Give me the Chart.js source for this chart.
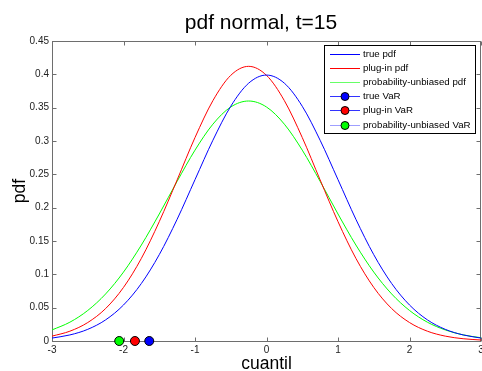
<!DOCTYPE html>
<html>
<head>
<meta charset="utf-8">
<title>pdf normal, t=15</title>
<script src="https://cdn.jsdelivr.net/npm/chart.js@4.4.1/dist/chart.umd.min.js"></script>
<style>
  html, body { margin: 0; padding: 0; background: #fff; }
  #wrap { width: 482px; height: 371px; }
</style>
</head>
<body>
<div id="wrap"><canvas id="pdfChart" width="482" height="371"></canvas></div>
<script>
const chartTitle = "pdf normal, t=15";

// x positions (cuantil) the curves were read at
const quantiles = [-3, -2.75, -2.5, -2.25, -2, -1.75, -1.5, -1.25, -1, -0.75, -0.5, -0.25,
  0, 0.25, 0.5, 0.75, 1, 1.25, 1.5, 1.75, 2, 2.25, 2.5, 2.75, 3];

const truePdf = [0.0044, 0.0091, 0.0175, 0.0317, 0.0540, 0.0863, 0.1295, 0.1826, 0.2420, 0.3011, 0.3521, 0.3867,
  0.3989, 0.3867, 0.3521, 0.3011, 0.2420, 0.1826, 0.1295, 0.0863, 0.0540, 0.0317, 0.0175, 0.0091, 0.0044];

const plugInPdf = [0.0073, 0.0147, 0.0277, 0.0487, 0.0804, 0.1240, 0.1790, 0.2416, 0.3052, 0.3605, 0.3985, 0.4120,
  0.3985, 0.3605, 0.3052, 0.2416, 0.1790, 0.1240, 0.0804, 0.0487, 0.0277, 0.0147, 0.0073, 0.0034, 0.0015];

const unbiasedPdf = [0.0166, 0.0282, 0.0458, 0.0706, 0.1034, 0.1440, 0.1905, 0.2395, 0.2863, 0.3252, 0.3510, 0.3600,
  0.3510, 0.3252, 0.2863, 0.2395, 0.1905, 0.1440, 0.1034, 0.0706, 0.0458, 0.0282, 0.0166, 0.0092, 0.0049];

// VaR markers, all sitting on pdf = 0
const trueVaR = [-1.64];
const plugInVaR = [-1.84];
const unbiasedVaR = [-2.06];

const xTicks = [-3, -2, -1, 0, 1, 2, 3];
const yTicks = [0, 0.05, 0.1, 0.15, 0.2, 0.25, 0.3, 0.35, 0.4, 0.45];

const toPoints = ys => quantiles.map((q, i) => ({ x: q, y: ys[i] }));
const varPoints = xs => xs.map(v => ({ x: v, y: 0 }));

const axisColor = "#6e6e6e";

// box round the axes + matlab style inward ticks
const framePlugin = {
  id: "frame",
  beforeDatasetsDraw(chart) {
    const { ctx, chartArea: a, scales } = chart;
    const l = Math.round(a.left) + 0.5, r = Math.round(a.right) - 0.5;
    const t = Math.round(a.top) + 0.5, b = Math.round(a.bottom) + 0.5;
    ctx.save();
    ctx.strokeStyle = axisColor;
    ctx.lineWidth = 1;
    ctx.strokeRect(l, t, r - l, b - t);
    ctx.beginPath();
    scales.x.ticks.forEach(tk => {
      const px = Math.round(scales.x.getPixelForValue(tk.value)) + 0.5;
      ctx.moveTo(px, b); ctx.lineTo(px, b - 4);
      ctx.moveTo(px, t); ctx.lineTo(px, t + 4);
    });
    scales.y.ticks.forEach(tk => {
      const py = Math.round(scales.y.getPixelForValue(tk.value)) + 0.5;
      ctx.moveTo(l, py); ctx.lineTo(l + 4, py);
      ctx.moveTo(r, py); ctx.lineTo(r - 4, py);
    });
    ctx.stroke();
    ctx.restore();
  },
  afterDraw(chart) {
    const { ctx } = chart;
    ctx.save();
    ctx.fillStyle = "#000";
    ctx.font = "21px 'Liberation Sans', Arial, sans-serif";
    ctx.textAlign = "center";
    ctx.textBaseline = "alphabetic";
    ctx.fillText(chartTitle, 261, 28.5);
    ctx.restore();
  }
};

// legend box in the upper right corner
const legendLines = ["#0000ff", "#ff0000", "#66ff66", "#3333ff", "#3333ff", "#9f9fff"];
const legendPlugin = {
  id: "boxLegend",
  afterDraw(chart) {
    const { ctx } = chart;
    const box = { left: 324.5, top: 45.5, right: 475.5, bottom: 133.5 };
    ctx.save();
    ctx.fillStyle = "#fff";
    ctx.fillRect(box.left, box.top, box.right - box.left, box.bottom - box.top);
    ctx.strokeStyle = "#000";
    ctx.lineWidth = 1;
    ctx.strokeRect(box.left, box.top, box.right - box.left, box.bottom - box.top);
    ctx.font = "9.7px 'Liberation Sans', Arial, sans-serif";
    ctx.textBaseline = "middle";
    chart.data.datasets.forEach((ds, i) => {
      const y = Math.round(54 + i * 14.1) + 0.5;
      ctx.strokeStyle = legendLines[i];
      ctx.beginPath();
      ctx.moveTo(330, y); ctx.lineTo(360, y);
      ctx.stroke();
      if (ds.showLine === false) {
        ctx.beginPath();
        ctx.arc(345, y, 4, 0, Math.PI * 2);
        ctx.fillStyle = ds.pointBackgroundColor;
        ctx.fill();
        ctx.strokeStyle = "#000";
        ctx.stroke();
      }
      ctx.fillStyle = "#000";
      ctx.fillText(ds.label, 363, y);
    });
    ctx.restore();
  }
};

const curve = (label, ys, color) => ({
  label, data: toPoints(ys), borderColor: color, borderWidth: 1,
  pointRadius: 0, cubicInterpolationMode: "monotone", fill: false
});
const marker = (label, xs, color) => ({
  label, data: varPoints(xs), showLine: false, pointRadius: 4.5, pointHoverRadius: 4.5,
  pointBackgroundColor: color, pointBorderColor: "#000", pointBorderWidth: 1, clip: false
});

new Chart(document.getElementById("pdfChart"), {
  type: "line",
  data: {
    datasets: [
      curve("true pdf", truePdf, "#0000ff"),
      curve("plug-in pdf", plugInPdf, "#ff0000"),
      curve("probability-unbiased pdf", unbiasedPdf, "#00ff00"),
      marker("true VaR", trueVaR, "#0000ff"),
      marker("plug-in VaR", plugInVaR, "#ff0000"),
      marker("probability-unbiased VaR", unbiasedVaR, "#00ff00")
    ]
  },
  options: {
    responsive: false,
    animation: false,
    events: [],
    layout: { autoPadding: false, padding: { left: 0, right: 1, top: 41, bottom: 0 } },
    plugins: { legend: { display: false }, title: { display: false }, tooltip: { enabled: false } },
    scales: {
      x: {
        type: "linear", min: -3, max: 3,
        afterBuildTicks: s => { s.ticks = xTicks.map(v => ({ value: v })); },
        afterFit: s => { s.height = 30; s.paddingLeft = 0; s.paddingRight = 0; },
        grid: { display: false, drawTicks: false, tickLength: 0 },
        border: { display: false },
        ticks: { color: "#222", padding: 3, maxRotation: 0, autoSkip: false,
          font: { family: "'Liberation Sans', Arial, sans-serif", size: 10 },
          callback: v => String(v) },
        title: { display: true, text: "cuantil", color: "#000", padding: 0,
          font: { family: "'Liberation Sans', Arial, sans-serif", size: 17.5, lineHeight: 0.8 } }
      },
      y: {
        type: "linear", min: 0, max: 0.45,
        afterBuildTicks: s => { s.ticks = yTicks.map(v => ({ value: v })); },
        afterFit: s => { s.width = 52; s.paddingTop = 0; s.paddingBottom = 0; },
        grid: { display: false, drawTicks: false, tickLength: 0 },
        border: { display: false },
        ticks: { color: "#222", padding: 3, autoSkip: false,
          font: { family: "'Liberation Sans', Arial, sans-serif", size: 10 },
          callback: v => String(v) },
        title: { display: true, text: "pdf", color: "#000", padding: { top: 9.5, bottom: 0 },
          font: { family: "'Liberation Sans', Arial, sans-serif", size: 17.5, lineHeight: 1.2 } }
      }
    }
  },
  plugins: [framePlugin, legendPlugin]
});
</script>
</body>
</html>
